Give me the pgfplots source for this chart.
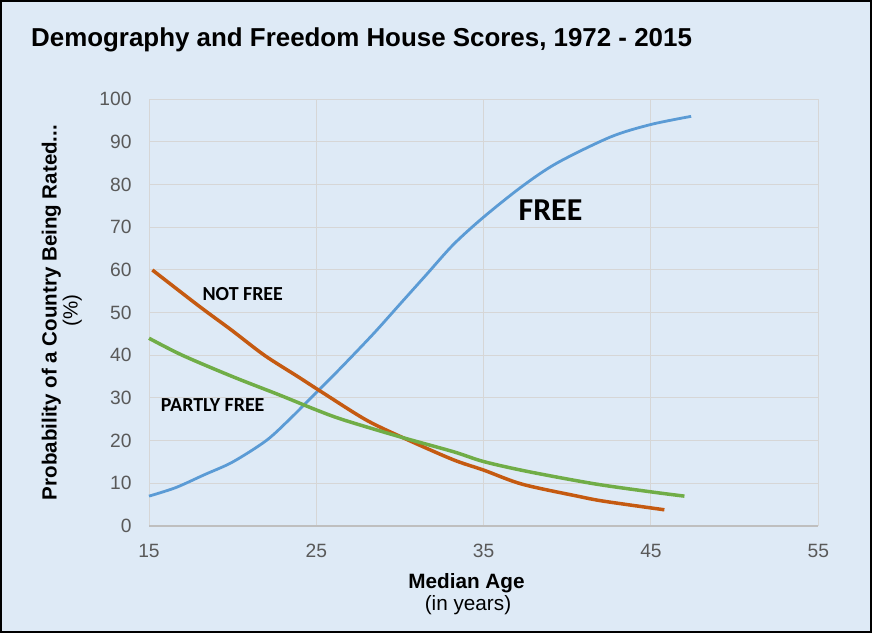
\documentclass[border=0pt]{standalone}
\usepackage{pgfplots}
\pgfplotsset{compat=1.18}
\usepackage{fontspec}
\setmainfont{Liberation Sans}
\newfontfamily\carlito{Carlito}
\definecolor{bgc}{HTML}{DEEAF6}
\definecolor{gridc}{HTML}{D6D6D6}
\definecolor{axisc}{HTML}{BFBFBF}
\definecolor{tickc}{HTML}{595959}
\definecolor{freec}{HTML}{5B9BD5}
\definecolor{notfreec}{HTML}{C55A11}
\definecolor{partlyc}{HTML}{70AD47}
\begin{document}
\begin{tikzpicture}
\fill[bgc] (0bp,0bp) rectangle (872bp,633bp);
\begin{axis}[
  at={(149bp,107bp)}, anchor=south west,
  scale only axis, width=669.3bp, height=426.7bp,
  xmin=15, xmax=55, ymin=0, ymax=100,
  xtick={15,25,35,45,55}, ytick={0,10,...,100},
  grid=major, grid style={draw=gridc, line width=1bp},
  axis line style={draw=none},
  major tick length=0pt,
  /pgf/number format/assume math mode=true,
  tick label style={font=\fontsize{19.3}{19.3}\selectfont, text=tickc},
  xticklabel style={anchor=base, inner sep=0pt, yshift=-31.3bp},
  yticklabel style={anchor=east, inner sep=0pt, xshift=-17.3bp},
  clip=false,
]
\draw[axisc, line width=1.2bp] (axis cs:15,0) -- (axis cs:55,0);
\addplot[freec, line width=2.8bp, smooth, no markers] coordinates {
(15,7) (16.6,9) (18.3,12) (20,15) (22,20) (23.4,25) (24.8,30.5) (26.4,36.8)
(28.4,45) (30,52) (31.6,59) (33.2,66) (35,72.4) (37.3,79.6) (39.4,85.1)
(42.6,91.2) (45,94.1) (47.4,96)};
\addplot[notfreec, line width=3.5bp, smooth, no markers] coordinates {
(15.2,60) (18,51.5) (19.9,46) (21.9,40) (23.9,35) (25.4,31.2) (28,24.8)
(30.4,20.3) (33.2,15.5) (35,13.1) (37.3,9.8) (40.6,7) (42.2,5.8) (45.8,3.8)};
\addplot[partlyc, line width=3.5bp, smooth, no markers] coordinates {
(15,44) (17,40) (20,35) (22.8,30.7) (25,27.2) (26.6,24.9) (30,20.9)
(33.2,17.4) (35,15.1) (37.6,12.8) (41.6,9.9) (45,8) (47,7)};
\node[anchor=base west, inner sep=0pt, font=\carlito\bfseries\fontsize{20}{20}\selectfont] at (axis cs:18.19,52.9) {NOT FREE};
\node[anchor=base west, inner sep=0pt, font=\carlito\bfseries\fontsize{20}{20}\selectfont] at (axis cs:15.70,26.77) {PARTLY FREE};
\node[anchor=base west, inner sep=0pt, font=\carlito\bfseries\fontsize{32}{32}\selectfont] at (axis cs:37.08,71.66) {FREE};
\end{axis}
\node[anchor=base west, inner sep=0pt, font=\bfseries\fontsize{26}{26}\selectfont] at (31bp,586.3bp) {Demography and Freedom House Scores, 1972 - 2015};
\node[anchor=base, inner sep=0pt, font=\bfseries\fontsize{20.8}{20.8}\selectfont] at (466.5bp,44.7bp) {Median Age};
\node[anchor=base, inner sep=0pt, font=\fontsize{20.8}{20.8}\selectfont] at (468bp,23bp) {(in years)};
\node[rotate=90, anchor=base, inner sep=0pt, font=\bfseries\fontsize{20.6}{20.6}\selectfont] at (56.7bp,320.5bp) {Probability of a Country Being Rated...};
\node[rotate=90, anchor=base, inner sep=0pt, font=\fontsize{20.6}{20.6}\selectfont] at (77.5bp,322.3bp) {(\%)};
\draw[black, line width=2bp] (1bp,1bp) rectangle (871bp,632bp);
\pgfresetboundingbox
\path (0bp,0bp) rectangle (872bp,633bp);
\end{tikzpicture}
\end{document}
